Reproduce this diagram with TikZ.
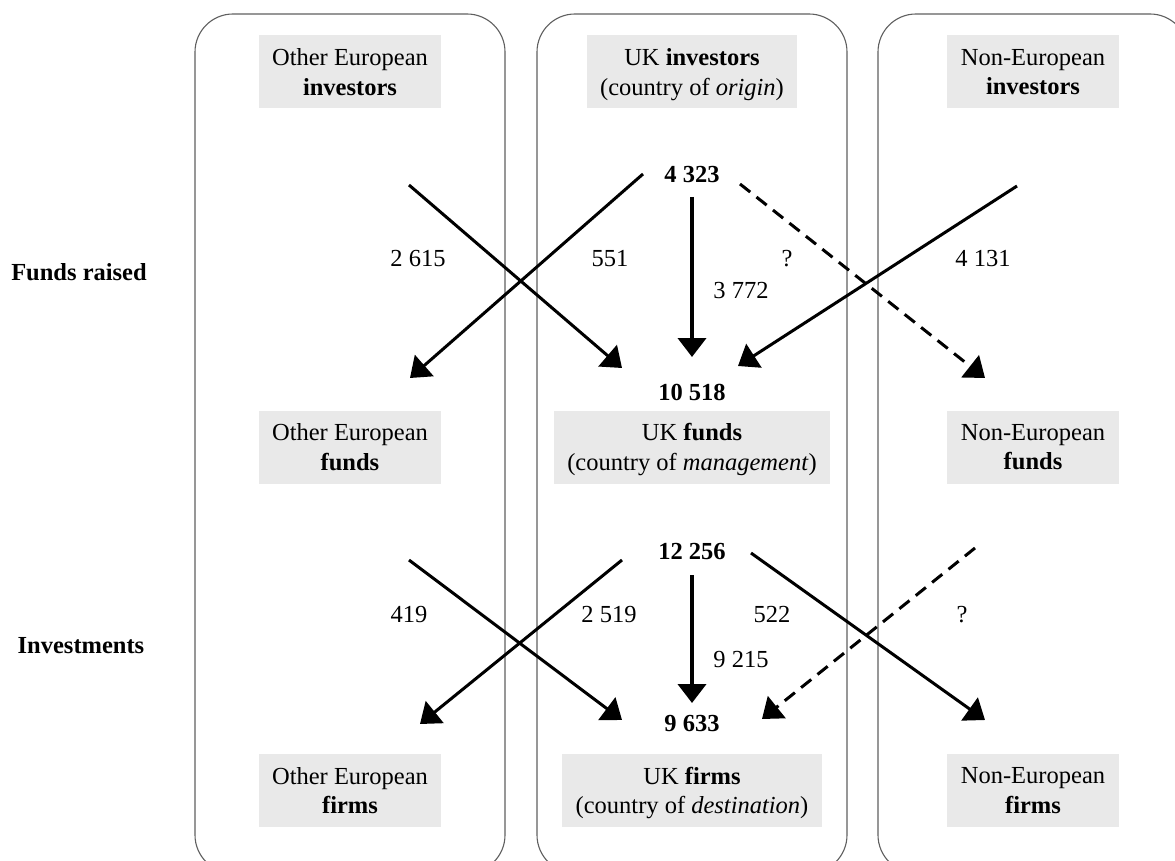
\documentclass[tikz,border=0pt]{standalone}
\usepackage{fontspec}
\setmainfont{Liberation Serif}
\usetikzlibrary{arrows.meta}
\definecolor{boxgray}{RGB}{233,233,233}
\definecolor{colline}{RGB}{95,95,95}
\newcommand\lastline[1]{\raisebox{0pt}[\height][0pt]{#1}}
\begin{document}
\begin{tikzpicture}[x=1pt,y=-1pt,
  every node/.style={font=\fontsize{24.5}{29.5}\selectfont, inner sep=0pt},
  catbox/.style={fill=boxgray, align=center, inner xsep=13.5pt, minimum height=73pt},
  num/.style={anchor=base},
  bnum/.style={anchor=base, font=\fontsize{24.5}{29.5}\selectfont\bfseries},
  column/.style={draw=colline, line width=1.1pt, rounded corners=38pt},
  arr/.style={line width=3pt, -{Triangle[length=19pt,width=28pt]}},
  varr/.style={line width=4pt, -{Triangle[length=19pt,width=28pt]}},
  darr/.style={arr, dash pattern=on 13pt off 8pt},
]
\useasboundingbox (0,0) rectangle (1175,861);
\begin{scope}
  \clip (0,0) rectangle (1175,861);
  \draw[column] (195,14) rectangle (505,873);
  \draw[column] (537,14) rectangle (847,873);
  \draw[column] (878,14) rectangle (1188,873);
\end{scope}

% category boxes
\node[catbox] (oeInv) at (350,72) {Other European\\\lastline{\textbf{investors}}};
\node[catbox] (ukInv) at (692,72) {UK \textbf{investors}\\\lastline{(country of \textit{origin})}};
\node[catbox] (neInv) at (1033,72) {Non-European\\\lastline{\textbf{investors}}};

\node[catbox] (oeFund) at (350,447) {Other European\\\lastline{\textbf{funds}}};
\node[catbox] (ukFund) at (692,447) {UK \textbf{funds}\\\lastline{(country of \textit{management})}};
\node[catbox] (neFund) at (1033,447) {Non-European\\\lastline{\textbf{funds}}};

\node[catbox] (oeFirm) at (350,790.5) {Other European\\\lastline{\textbf{firms}}};
\node[catbox] (ukFirm) at (692,790.5) {UK \textbf{firms}\\\lastline{(country of \textit{destination})}};
\node[catbox] (neFirm) at (1033,790.5) {Non-European\\\lastline{\textbf{firms}}};

% totals
\node[bnum] (n4323) at (692,183) {4 323};
\node[bnum] (n10518) at (692,400) {10 518};
\node[bnum] (n12256) at (692,559) {12 256};
\node[bnum] (n9633) at (692,731) {9 633};

% row labels
\node[bnum] (fundsraised) at (79,280) {Funds raised};
\node[bnum] (investments) at (81,653) {Investments};

% flow values
\node[num] (l2615) at (418,266) {2 615};
\node[num] (l551) at (610,266) {551};
\node[num] (l3772) at (741,298) {3 772};
\node[num] (lq1) at (787,266) {?};
\node[num] (l4131) at (983,266) {4 131};
\node[num] (l419) at (409,622) {419};
\node[num] (l2519) at (609,622) {2 519};
\node[num] (l522) at (772,622) {522};
\node[num] (l9215) at (741,667) {9 215};
\node[num] (lq2) at (962,622) {?};

% arrow end points
\coordinate (a1s) at (409,185);  \coordinate (a1e) at (622,368);
\coordinate (a2s) at (643,174);  \coordinate (a2e) at (410,378);
\coordinate (a3s) at (692,197);  \coordinate (a3e) at (692,357);
\coordinate (a4s) at (740,184);  \coordinate (a4e) at (985,378);
\coordinate (a5s) at (1017,186); \coordinate (a5e) at (738,366);

\coordinate (b1s) at (409,560);  \coordinate (b1e) at (622,720);
\coordinate (b2s) at (622,560);  \coordinate (b2e) at (420,724);
\coordinate (b3s) at (692,575);  \coordinate (b3e) at (692,703);
\coordinate (b4s) at (751,553);  \coordinate (b4e) at (985,720);
\coordinate (b5s) at (975,548);  \coordinate (b5e) at (762,719);

\draw[arr] (a1s) -- (a1e);
\draw[arr] (a2s) -- (a2e);
\draw[varr] (a3s) -- (a3e);
\draw[darr] (a4s) -- (a4e);
\draw[arr] (a5s) -- (a5e);

\draw[arr] (b1s) -- (b1e);
\draw[arr] (b2s) -- (b2e);
\draw[varr] (b3s) -- (b3e);
\draw[arr] (b4s) -- (b4e);
\draw[darr] (b5s) -- (b5e);
\end{tikzpicture}
\end{document}
